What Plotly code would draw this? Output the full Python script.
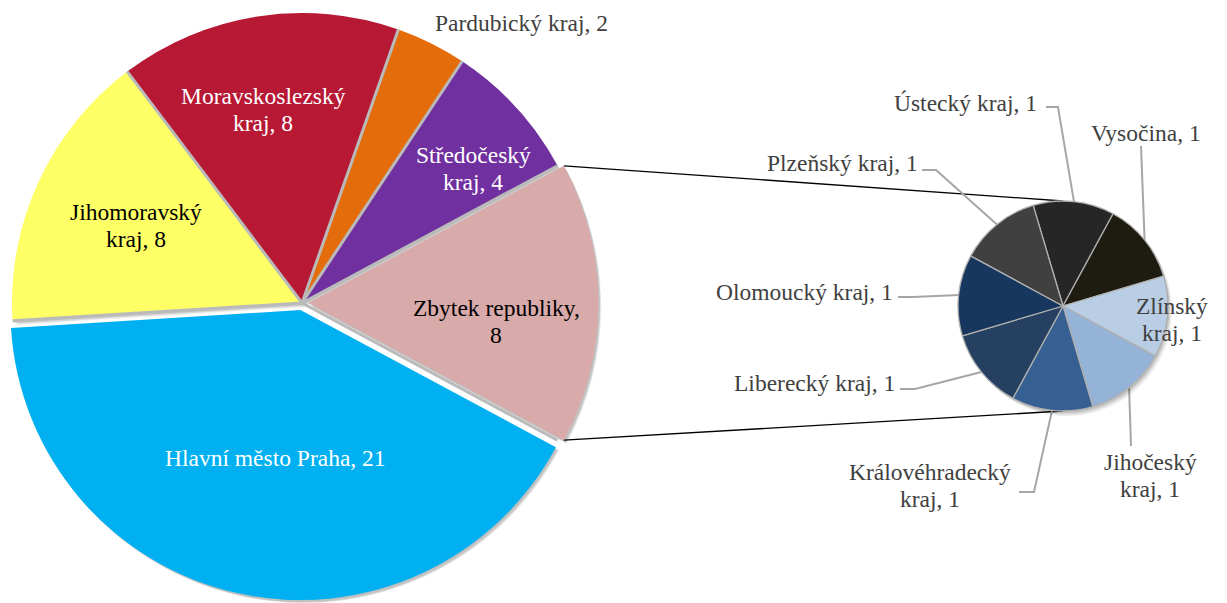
import math
import plotly.graph_objects as go

W, H = 1227, 603

# ---------------- data ----------------
main_labels = ["Hlavní město Praha", "Jihomoravský kraj", "Moravskoslezský kraj",
               "Pardubický kraj", "Středočeský kraj", "Zbytek republiky"]
main_values = [21, 8, 8, 2, 4, 8]
main_colors = ["#00b0f0", "#ffff66", "#b71834", "#e46c0a", "#7030a0", "#d9aaaa"]

sub_labels = ["Ústecký kraj", "Vysočina", "Zlínský kraj", "Jihočeský kraj",
              "Královéhradecký kraj", "Liberecký kraj", "Olomoucký kraj", "Plzeňský kraj"]
sub_values = [1, 1, 1, 1, 1, 1, 1, 1]
sub_colors = ["#262626", "#1e1c11", "#b9cde5", "#95b3d7",
              "#366092", "#254061", "#17375e", "#404040"]

# ---------------- styling / layout ----------------
main_pull = [0.025, 0, 0, 0, 0, 0.022]
M_CX, M_CY, M_R = 302, 303, 290
S_CX, S_CY, S_R = 1063, 306, 105
M_ROT = 90 + 180.0 * main_values[-1] / sum(main_values)   # "Zbytek" centred at 3 o'clock
S_ROT = -16.5

FONT = "Liberation Serif, Times New Roman, serif"
FS = 23.5
LINE_H = 27
GRAY_TXT = "#404040"
LEADER = "#a6a6a6"
GAP = "#bababa"

# label placement (pixels): x, y, colour, word index for line break
main_label_pos = {
    "Hlavní město Praha": (275, 458, "white", None),
    "Jihomoravský kraj": (136, 225, "black", 1),
    "Moravskoslezský kraj": (263, 109, "white", 1),
    "Pardubický kraj": (521, 23, GRAY_TXT, None),
    "Středočeský kraj": (473, 168, "white", 1),
    "Zbytek republiky": (496, 321, "black", 2),
}
sub_label_pos = {
    "Ústecký kraj": (965, 103, None, [(1046, 107), (1058, 107)]),
    "Vysočina": (1146, 133, None, [(1141, 146)]),
    "Zlínský kraj": (1172, 319, 1, None),
    "Jihočeský kraj": (1150, 475, 1, [(1131, 446)]),
    "Královéhradecký kraj": (930, 485, 1, [(1019, 492), (1034, 492)]),
    "Liberecký kraj": (814, 383, None, [(900, 389), (915, 389)]),
    "Olomoucký kraj": (804, 292, None, [(898, 297), (913, 297)]),
    "Plzeňský kraj": (842, 163, None, [(922, 170), (936, 170)]),
}


def clamp(v):
    return max(0.0, min(1.0, v))


def domain(cx, cy, r, maxpull):
    half = r * (1 + maxpull)
    return dict(x=[clamp((cx - half) / W), clamp((cx + half) / W)],
                y=[clamp((H - cy - half) / H), clamp((H - cy + half) / H)])


def slice_angles(values, rot):
    T = float(sum(values))
    out, a = [], rot
    for v in values:
        b = a + 360.0 * v / T
        out.append((a, b))
        a = b
    return out


def pt(cx, cy, r, ang):
    t = math.radians(ang)
    return cx + r * math.sin(t), cy - r * math.cos(t)


fig = go.Figure()

# soft shadows (bottom-right)
for dx, dy, a in [(1.5, 2, 0.10), (2.5, 3.5, 0.09), (4, 5, 0.07)]:
    fig.add_trace(go.Pie(values=main_values, labels=main_labels, sort=False,
                         direction="clockwise", rotation=M_ROT, pull=main_pull,
                         marker=dict(colors=[f"rgba(0,0,0,{a})"] * len(main_values),
                                     line=dict(width=0)),
                         textinfo="none", hoverinfo="skip", showlegend=False,
                         domain=domain(M_CX + dx, M_CY + dy, M_R, max(main_pull))))
    fig.add_trace(go.Pie(values=sub_values, labels=sub_labels, sort=False,
                         direction="clockwise", rotation=S_ROT,
                         marker=dict(colors=[f"rgba(0,0,0,{a})"] * len(sub_values),
                                     line=dict(width=0)),
                         textinfo="none", hoverinfo="skip", showlegend=False,
                         domain=domain(S_CX + dx, S_CY + dy, S_R, 0)))

# main pie
fig.add_trace(go.Pie(values=main_values, labels=main_labels, sort=False,
                     direction="clockwise", rotation=M_ROT, pull=main_pull,
                     marker=dict(colors=main_colors, line=dict(width=0)),
                     textinfo="none", hoverinfo="label+value", showlegend=False,
                     domain=domain(M_CX, M_CY, M_R, max(main_pull))))
# secondary pie
fig.add_trace(go.Pie(values=sub_values, labels=sub_labels, sort=False,
                     direction="clockwise", rotation=S_ROT,
                     marker=dict(colors=sub_colors, line=dict(color="#b0b0b0", width=1.3)),
                     textinfo="none", hoverinfo="label+value", showlegend=False,
                     domain=domain(S_CX, S_CY, S_R, 0)))

m_ang = slice_angles(main_values, M_ROT)

# separating gaps along every slice boundary of the main pie
shapes = []
for i in range(len(main_values)):
    ex, ey = pt(M_CX, M_CY, M_R, m_ang[i][1])
    shapes.append(dict(type="line", xref="x", yref="y", x0=M_CX, y0=M_CY, x1=ex, y1=ey,
                       line=dict(color=GAP, width=3), layer="above"))

# connector lines from the "Zbytek" slice to the secondary pie
a0, a1 = m_ang[-1]
mid = (a0 + a1) / 2
px, py = pt(0, 0, main_pull[-1] * M_R, mid)
top = pt(M_CX + px, M_CY + py, M_R, a0)
bot = pt(M_CX + px, M_CY + py, M_R, a1)
for (x0, y0), (x1, y1) in [(top, (S_CX, S_CY - S_R)), (bot, (S_CX, S_CY + S_R))]:
    fig.add_trace(go.Scatter(x=[x0, x1], y=[y0, y1], mode="lines",
                             line=dict(color="black", width=1.3),
                             hoverinfo="skip", showlegend=False))

# leader lines for the secondary pie
s_ang = slice_angles(sub_values, S_ROT)
for lab, (a, b) in zip(sub_labels, s_ang):
    x, y, brk, leader = sub_label_pos[lab]
    if not leader:
        continue
    ex, ey = pt(S_CX, S_CY, S_R, (a + b) / 2)
    xs = [p[0] for p in leader] + [ex]
    ys = [p[1] for p in leader] + [ey]
    fig.add_trace(go.Scatter(x=xs, y=ys, mode="lines",
                             line=dict(color=LEADER, width=2),
                             hoverinfo="skip", showlegend=False))


def add_label(x, y, text, brk, color):
    words = text.split(" ")
    lines = [text] if brk is None else [" ".join(words[:brk]), " ".join(words[brk:])]
    n = len(lines)
    for i, line in enumerate(lines):
        fig.add_annotation(x=x, y=y + (i - (n - 1) / 2) * LINE_H, xref="x", yref="y",
                           text=line, showarrow=False, xanchor="center", yanchor="middle",
                           font=dict(family=FONT, size=FS, color=color))


for lab, val in zip(main_labels, main_values):
    x, y, col, brk = main_label_pos[lab]
    add_label(x, y, f"{lab}, {val}", brk, col)

for lab, val in zip(sub_labels, sub_values):
    x, y, brk, _ = sub_label_pos[lab]
    add_label(x, y, f"{lab}, {val}", brk, GRAY_TXT)

fig.update_layout(
    width=W, height=H,
    margin=dict(l=0, r=0, t=0, b=0),
    paper_bgcolor="white", plot_bgcolor="white",
    xaxis=dict(range=[0, W], visible=False, fixedrange=True, domain=[0, 1]),
    yaxis=dict(range=[H, 0], visible=False, fixedrange=True, domain=[0, 1]),
    showlegend=False,
    shapes=shapes,
)

fig.write_html("out.html",
               config={"displayModeBar": False},
               post_script="document.body.style.margin='0';"
                           "document.body.style.overflow='hidden';")
